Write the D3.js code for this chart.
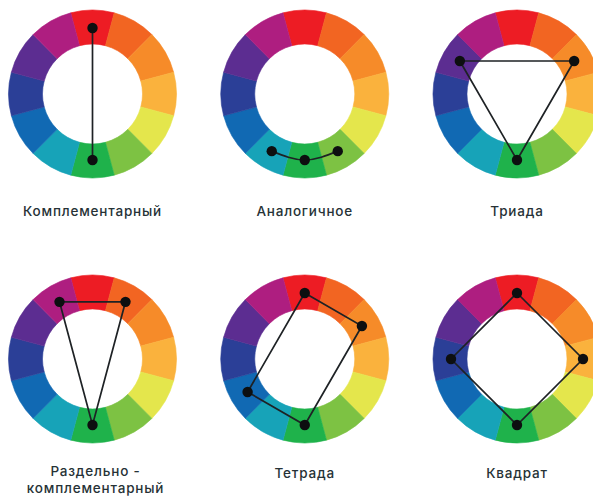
<!DOCTYPE html>
<html><head><meta charset="utf-8">
<script src="https://cdn.jsdelivr.net/npm/d3@7/dist/d3.min.js"></script>
<style>html,body{margin:0;padding:0;background:#fff;}svg{display:block;}</style>
</head><body>
<svg id="c" width="593" height="497"></svg>
<script>
// Data
const segmentColors = ["#ed1c24","#f26522","#f68b29","#fab23d","#e4e64c","#7dc243",
                       "#1fb24b","#17a3b8","#1169b3","#2b3f97","#5c2d91","#ae1e80"];
const schemeNames = ["Комплементарный","Аналогичное","Триада","Раздельно -\nкомплементарный","Тетрада","Квадрат"];
const schemeSegments = [[0,6],[5,6,7],[2,6,10],[11,1,6],[0,2,6,8],[0,3,6,9]];
const schemeClosed = [false,false,true,true,true,true];
const schemeCurved = [false,true,false,false,false,false];

const svg = d3.select("#c");
const cols = d3.scalePoint().domain([0,1,2]).range([92.5,517]);
const rows = d3.scalePoint().domain([0,1]).range([94,359]);
const ang = d3.scaleLinear().domain([0,12]).range([0,2*Math.PI]);
const outerR = 84, innerR = 50, dotR = 66;
const arc = d3.arc().innerRadius(innerR).outerRadius(outerR);

schemeNames.forEach((name,k)=>{
  const cx = cols(k%3), cy = rows(Math.floor(k/3));
  const g = svg.append("g").attr("transform",`translate(${cx},${cy})`);
  g.selectAll("path.seg").data(segmentColors).join("path")
    .attr("class","seg")
    .attr("d",(c,i)=>arc({startAngle:ang(i-0.5),endAngle:ang(i+0.5)}))
    .attr("fill",c=>c).attr("stroke",c=>c).attr("stroke-width",0.6);
  const pts = schemeSegments[k].map(s=>d3.pointRadial(ang(s),dotR));
  let line = d3.line();
  if (schemeCurved[k]) line = line.curve(d3.curveNatural);
  if (schemeClosed[k]) line = line.curve(d3.curveLinearClosed);
  g.append("path").attr("d",line(pts)).attr("fill","none")
    .attr("stroke","#1e2225").attr("stroke-width",1.7);
  g.selectAll("circle").data(pts).join("circle")
    .attr("cx",p=>p[0]).attr("cy",p=>p[1]).attr("r",5.2).attr("fill","#0d0f10");
  const lines = name.split("\n");
  const tx = cx + (k===3?3:0);
  const t = svg.append("text").attr("x",tx).attr("y", k<3 ? 216 : (lines.length>1 ? 476 : 478))
    .attr("text-anchor","middle")
    .attr("font-family","Inter, 'Open Sans', sans-serif")
    .attr("font-weight",500).attr("font-size",13.5).attr("letter-spacing",0.8)
    .attr("fill","#263236");
  lines.forEach((l,j)=>t.append("tspan").attr("x",tx).attr("dy",j?16.5:0).text(l));
});
</script>
</body></html>
